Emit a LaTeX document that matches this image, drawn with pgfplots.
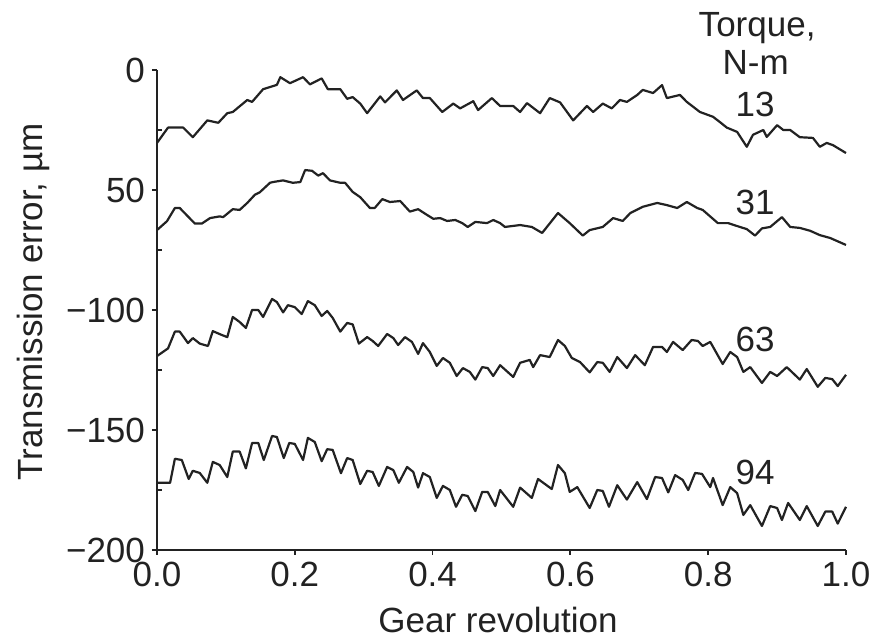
\documentclass[border=0pt]{standalone}
\usepackage{pgfplots}
\pgfplotsset{compat=1.18}
\usepackage{fontspec}
\setmainfont{Liberation Sans}
\definecolor{ink}{HTML}{222222}
\begin{document}
\begin{tikzpicture}[font=\fontsize{17.5}{21}\selectfont]
\begin{axis}[
  at={(0,0)}, anchor=south west,
  scale only axis, width=344.5pt, height=240pt,
  xmin=0, xmax=1, ymin=-200, ymax=0,
  axis lines*=left,
  axis line style={ink, line width=0.9pt},
  every tick/.style={ink, line width=0.9pt},
  tick align=outside, major tick length=2.5pt,
  xtick={0,0.2,0.4,0.6,0.8,1.0},
  xticklabels={0.0,0.2,0.4,0.6,0.8,1.0},
  ytick={-200,-150,-100,-50,0},
  yticklabels={−200,−150,−100,50,0},
  ticklabel style={font=\fontsize{17.5}{21}\selectfont, text=ink},
  /pgf/number format/assume math mode=true,
  xlabel={Gear revolution},
  ylabel={Transmission error, µm},
  xlabel style={at={(axis description cs:0.495,-0.146)}, anchor=center, text=ink},
  ylabel style={at={(axis description cs:-0.18,0.517)}, anchor=center, rotate=0, text=ink},
  clip=false,
]
% 13 N-m
\addplot[ink, line width=1.1pt, line join=round] coordinates {
(0.0,-30.4) (0.016,-24) (0.038,-24) (0.052,-28) (0.073,-21) (0.089,-22) (0.102,-18) (0.110,-17.5)
(0.131,-12.5) (0.138,-13.3) (0.154,-8) (0.174,-6.2) (0.179,-3) (0.193,-5.5) (0.212,-3) (0.222,-6)
(0.239,-3.5) (0.248,-8) (0.266,-8) (0.276,-12) (0.284,-11.3) (0.295,-14) (0.305,-18) (0.324,-11)
(0.331,-13.5) (0.348,-8.5) (0.357,-12.5) (0.377,-8.5) (0.386,-11.7) (0.396,-11.7) (0.414,-17.5)
(0.430,-14) (0.440,-16) (0.459,-13) (0.466,-16.7) (0.486,-11.7) (0.498,-15) (0.517,-15) (0.527,-17.5)
(0.537,-13.8) (0.556,-18) (0.570,-11.7) (0.585,-13.5) (0.604,-21) (0.624,-15) (0.633,-17.5)
(0.647,-14) (0.660,-16) (0.672,-12.5) (0.682,-13.3) (0.697,-10.4) (0.705,-8.3) (0.720,-9.6)
(0.733,-6.3) (0.740,-11.7) (0.759,-10.4) (0.769,-13.3) (0.788,-17.5) (0.807,-19.5) (0.817,-21.7)
(0.827,-24) (0.842,-25.8) (0.856,-32) (0.865,-27) (0.880,-25) (0.885,-27.9) (0.900,-23)
(0.909,-25) (0.919,-25) (0.933,-28) (0.952,-28.3) (0.962,-32) (0.972,-30.4) (0.981,-31.3) (1.0,-34.6)
};
% 31 N-m
\addplot[ink, line width=1.1pt, line join=round] coordinates {
(0.0,-66.7) (0.0145,-63) (0.026,-57.5) (0.033,-57.5) (0.055,-64) (0.065,-64) (0.077,-61.7)
(0.091,-61) (0.096,-61.3) (0.110,-58) (0.120,-58.3) (0.131,-55.4) (0.142,-52) (0.149,-51)
(0.164,-47) (0.168,-46.7) (0.183,-46) (0.197,-47) (0.208,-46.7) (0.215,-41.7) (0.225,-42)
(0.234,-44) (0.241,-43) (0.251,-46) (0.266,-47) (0.273,-47) (0.284,-50.8) (0.295,-53)
(0.309,-57.5) (0.316,-57.5) (0.327,-53.8) (0.338,-55) (0.353,-54.6) (0.367,-59) (0.379,-58)
(0.392,-60.4) (0.401,-62) (0.411,-61.7) (0.421,-62.9) (0.433,-62.5) (0.443,-63.8) (0.451,-65.4)
(0.462,-63.3) (0.479,-63.8) (0.488,-62.5) (0.498,-63.8) (0.505,-65.4) (0.527,-64.6) (0.544,-65.4)
(0.559,-67.9) (0.582,-59.6) (0.599,-63.8) (0.618,-69) (0.628,-66.7) (0.647,-65.4) (0.662,-61.7)
(0.676,-62.9) (0.687,-59.6) (0.705,-57) (0.726,-55.4) (0.740,-56.3) (0.755,-57.5) (0.769,-55)
(0.784,-57.5) (0.792,-58.3) (0.814,-63.8) (0.829,-63.8) (0.846,-65.4) (0.856,-66.3) (0.868,-69)
(0.878,-66) (0.890,-65.4) (0.907,-61.3) (0.919,-65.4) (0.933,-65.8) (0.948,-67) (0.962,-68.8)
(0.977,-70) (1.0,-72.9)
};
% 63 N-m
\addplot[ink, line width=1.1pt, line join=round] coordinates {
(0.0,-119.2) (0.016,-116) (0.026,-109) (0.033,-109) (0.045,-113.8) (0.052,-111.7) (0.062,-114)
(0.074,-115) (0.081,-108.8) (0.094,-110.4) (0.102,-111.3) (0.110,-102.9) (0.120,-105) (0.129,-107.5)
(0.138,-100) (0.147,-100) (0.154,-102.9) (0.167,-95.4) (0.174,-96.7) (0.183,-101) (0.190,-98)
(0.200,-98.8) (0.210,-101.7) (0.219,-96.3) (0.229,-98) (0.239,-102.5) (0.247,-100.4) (0.255,-103.3)
(0.266,-109) (0.276,-105.4) (0.284,-106) (0.293,-114) (0.305,-111.3) (0.313,-112.9) (0.321,-115)
(0.334,-110) (0.343,-111.7) (0.350,-114.6) (0.360,-111.3) (0.370,-113.3) (0.379,-118.3) (0.386,-113.8)
(0.396,-117.5) (0.406,-123.3) (0.415,-120) (0.425,-122) (0.435,-127.5) (0.444,-124.2) (0.454,-125.8)
(0.462,-129) (0.472,-123.8) (0.480,-124.2) (0.488,-127.5) (0.498,-123) (0.517,-127.9) (0.527,-122)
(0.541,-120.8) (0.546,-123.8) (0.556,-118.8) (0.570,-119.6) (0.582,-112.5) (0.592,-115) (0.602,-120)
(0.614,-121.7) (0.628,-126) (0.639,-121.7) (0.647,-122) (0.657,-125.8) (0.668,-119.6) (0.682,-124.2)
(0.694,-118.8) (0.708,-123) (0.720,-115.4) (0.733,-115.4) (0.740,-117.5) (0.749,-113.3) (0.763,-116.7)
(0.776,-112.5) (0.785,-112.9) (0.792,-115) (0.803,-113.3) (0.821,-122.5) (0.832,-117.5) (0.842,-119.6)
(0.851,-125.8) (0.861,-123.8) (0.878,-130.4) (0.890,-125.8) (0.900,-127.5) (0.914,-123.8) (0.933,-129)
(0.943,-124.6) (0.959,-132) (0.970,-128.3) (0.980,-128.8) (0.988,-131.7) (1.0,-127)
};
% 94 N-m
\addplot[ink, line width=1.1pt, line join=round] coordinates {
(0.0,-172) (0.019,-172) (0.026,-162) (0.036,-162.5) (0.046,-170.4) (0.052,-167) (0.062,-167.9)
(0.073,-172) (0.081,-163.3) (0.091,-164.6) (0.102,-169.6) (0.110,-159) (0.120,-159) (0.129,-166)
(0.138,-155.4) (0.147,-155.4) (0.155,-162.5) (0.167,-152.5) (0.174,-152.9) (0.184,-161.7) (0.192,-155.4)
(0.200,-155.8) (0.212,-162.5) (0.219,-153.3) (0.229,-155) (0.239,-163) (0.247,-158) (0.255,-158.3)
(0.267,-168) (0.276,-161.7) (0.284,-162.5) (0.295,-172.5) (0.305,-167) (0.313,-167.5) (0.322,-173.3)
(0.334,-165.4) (0.343,-166.7) (0.351,-172) (0.363,-165.4) (0.372,-167.5) (0.379,-174) (0.386,-168)
(0.396,-169.6) (0.406,-178.3) (0.415,-173.3) (0.425,-175) (0.434,-182) (0.443,-177) (0.451,-177.5)
(0.462,-183.8) (0.472,-175.8) (0.480,-175.8) (0.491,-181.7) (0.498,-175) (0.517,-182) (0.527,-174)
(0.544,-178.3) (0.553,-170.4) (0.573,-174.6) (0.582,-164.6) (0.592,-168) (0.599,-175.8) (0.610,-173.8)
(0.628,-182.5) (0.639,-175) (0.647,-175.4) (0.656,-182) (0.668,-173) (0.682,-179) (0.697,-171.7)
(0.711,-178.8) (0.723,-169.6) (0.733,-170) (0.742,-176) (0.752,-168.8) (0.763,-170.8) (0.771,-175)
(0.781,-167.9) (0.791,-168.3) (0.803,-173.8) (0.807,-170) (0.821,-181.3) (0.832,-173.8) (0.842,-176.3)
(0.851,-185.4) (0.861,-181.3) (0.878,-190) (0.890,-181.7) (0.900,-182.5) (0.907,-187.5) (0.916,-180.4)
(0.933,-187.5) (0.943,-181.7) (0.959,-190) (0.970,-184) (0.980,-184) (0.988,-189) (1.0,-182)
};
\node[anchor=base, text=ink] at (axis cs:0.871,13.75) {Torque,};
\node[anchor=base, text=ink] at (axis cs:0.869,-1.7) {N-m};
\node[anchor=base, text=ink] at (axis cs:0.868,-19.2) {13};
\node[anchor=base, text=ink] at (axis cs:0.868,-60.4) {31};
\node[anchor=base, text=ink] at (axis cs:0.868,-117.5) {63};
\node[anchor=base, text=ink] at (axis cs:0.868,-172.9) {94};
\end{axis}
% overlay axis carrying only the inward minor ticks of the y axis
\begin{axis}[
  at={(0,0)}, anchor=south west,
  scale only axis, width=344.5pt, height=240pt,
  xmin=0, xmax=1, ymin=-200, ymax=0,
  axis lines*=left,
  axis line style={draw=none},
  every tick/.style={ink, line width=0.9pt},
  tick align=inside, major tick length=2.5pt,
  xtick=\empty,
  ytick={-175,-125,-75,-25},
  yticklabels={},
]
\end{axis}
\pgfresetboundingbox
\path[use as bounding box] (-78.5pt,-46pt) rectangle (358.5pt,275pt);
\end{tikzpicture}
\end{document}
